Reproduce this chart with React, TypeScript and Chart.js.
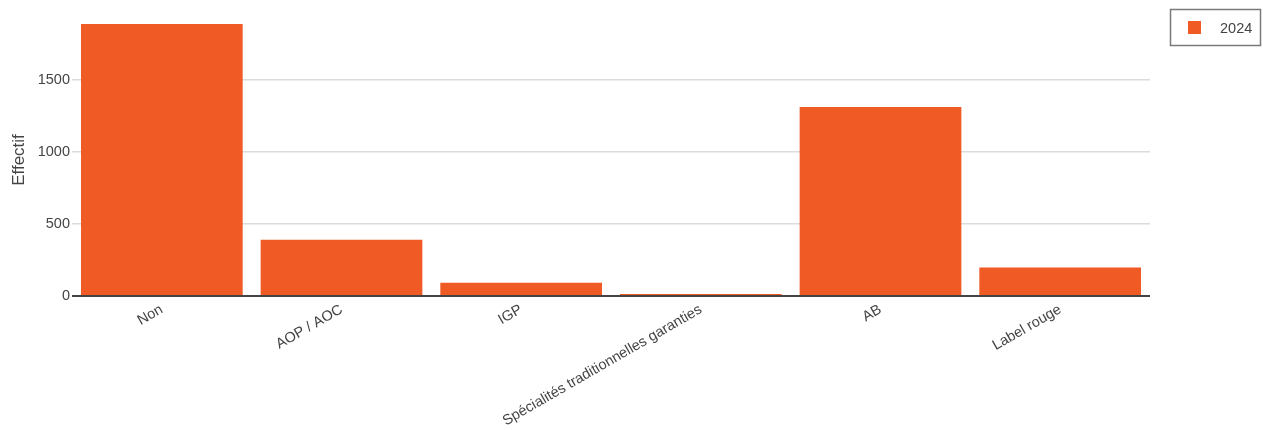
import React, { useEffect, useRef } from "react";
import { Chart, registerables } from "chart.js";

Chart.register(...registerables);

const categories = [
  "Non",
  "AOP / AOC",
  "IGP",
  "Spécialités traditionnelles garanties",
  "AB",
  "Label rouge",
];
const values2024 = [1889, 390, 92, 14, 1312, 198];
const seriesLabel = "2024";
const yTicks = [0, 500, 1000, 1500];
const yTitle = "Effectif";
const barColor = "#f05a25";
const FONT = "'Liberation Sans', Arial, sans-serif";

const legendPlugin = {
  id: "boxLegend",
  afterDraw(chart: any) {
    const ctx = chart.ctx;
    ctx.save();
    ctx.strokeStyle = "#7a7a7a";
    ctx.lineWidth = 1.5;
    ctx.strokeRect(1170.5, 9.5, 90, 36);
    ctx.fillStyle = barColor;
    ctx.fillRect(1188, 21, 13, 13);
    ctx.fillStyle = "#444";
    ctx.font = `14.5px ${FONT}`;
    ctx.textBaseline = "middle";
    ctx.textAlign = "left";
    ctx.fillText(chart.data.datasets[0].label, 1220, 28.5);
    ctx.restore();
  },
};

export default function App() {
  const ref = useRef<HTMLCanvasElement | null>(null);
  useEffect(() => {
    if (!ref.current) return;
    const chart = new Chart(ref.current, {
      type: "bar",
      data: {
        labels: categories,
        datasets: [
          {
            label: seriesLabel,
            data: values2024,
            backgroundColor: barColor,
            borderWidth: 0,
            categoryPercentage: 0.9,
            barPercentage: 1,
          },
        ],
      },
      plugins: [legendPlugin],
      options: {
        animation: false,
        responsive: true,
        maintainAspectRatio: false,
        layout: { padding: { left: 0, right: 113, top: 24, bottom: 0 } },
        plugins: { legend: { display: false }, tooltip: { enabled: false } },
        scales: {
          x: {
            grid: { display: false },
            border: { display: false },
            ticks: {
              color: "#444",
              font: { family: FONT, size: 14.5 },
              minRotation: 30,
              maxRotation: 30,
              autoSkip: false,
              padding: -3,
            },
            afterFit(scale: any) {
              scale.height = 134;
            },
          },
          y: {
            min: 0,
            max: 1889,
            afterBuildTicks(scale: any) {
              scale.ticks = yTicks.map((v) => ({ value: v }));
            },
            grid: {
              drawTicks: false,
              color: (c: any) => (c.tick && c.tick.value === 0 ? "#444" : "#dcdcdc"),
              lineWidth: (c: any) => (c.tick && c.tick.value === 0 ? 2 : 1.5),
            },
            border: { display: false },
            ticks: {
              color: "#444",
              font: { family: FONT, size: 14.5 },
              padding: 2,
              callback: (v: any) => String(v),
            },
            title: {
              display: true,
              text: yTitle,
              color: "#444",
              font: { family: FONT, size: 17 },
              padding: { top: 9, bottom: 0 },
            },
            afterFit(scale: any) {
              scale.width = 72;
            },
          },
        },
      },
    });
    return () => chart.destroy();
  }, []);
  return (
    <div style={{ position: "absolute", left: 0, top: 0, width: 1263, height: 430 }}>
      <canvas ref={ref} />
    </div>
  );
}
